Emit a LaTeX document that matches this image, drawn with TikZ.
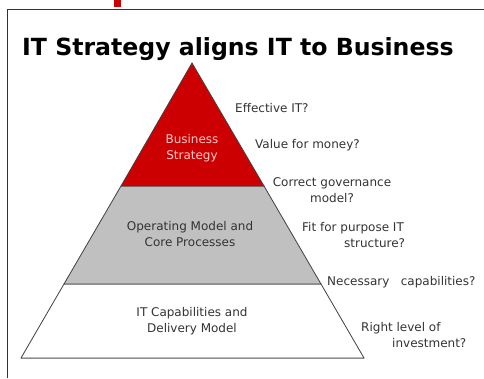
\documentclass[tikz,border=0pt]{standalone}
\usepackage{fontspec}
\setmainfont{DejaVu Sans}
\definecolor{bizred}{HTML}{CC0000}
\definecolor{opgrey}{HTML}{C0C0C0}
\definecolor{labtext}{HTML}{333333}
\begin{document}
\begin{tikzpicture}[x=1pt,y=-1pt,font=\fontsize{12}{15.5}\selectfont,
  layer/.style={draw=black!75, line width=0.8pt},
  qlabel/.style={text=labtext, inner sep=0pt},
  tierlabel/.style={align=center, inner sep=0pt}]
\useasboundingbox (0,0) rectangle (484,378);
% frame and mark
\fill[bizred] (114,0) rectangle (121,7);
\draw[black!80, line width=1pt] (7.5,378) -- (7.5,9.5) -- (484,9.5);
\node[anchor=base west, inner sep=0pt, font=\fontsize{23.6}{24}\selectfont\bfseries](title) at (22,55) {IT Strategy aligns IT to Business};
% pyramid
\filldraw[layer, fill=white] (64,284) -- (321,284) -- (364,358) -- (21,358) -- cycle;
\filldraw[layer, fill=opgrey] (121,186) -- (264,186) -- (321,284) -- (64,284) -- cycle;
\filldraw[layer, fill=bizred] (192,63) -- (264,186) -- (121,186) -- cycle;
\draw[black!45, line width=1pt] (21,358) -- (364,358);
\node[tierlabel, text=red!20!white](biz) at (192,148) {Business\\Strategy};
\node[tierlabel, text=labtext](ops) at (190,234) {Operating Model and\\Core Processes};
\node[tierlabel, text=labtext](cap) at (192,321) {IT Capabilities and\\Delivery Model};
% questions
\node[qlabel, anchor=west](eff) at (235,108) {Effective IT?};
\node[qlabel, anchor=west](val) at (255,145) {Value for money?};
\node[qlabel, align=center](gov) at (332,190) {Correct governance\\model?};
\node[qlabel, align=left, anchor=west](fit) at (302,235) {Fit for purpose IT\\\hspace*{42pt}structure?};
\node[qlabel, anchor=west](need) at (327,282) {Necessary\ \ \ capabilities?};
\node[qlabel, align=left, anchor=west](inv) at (361,335) {Right level of\\\hspace*{31pt}investment?};
%\node[qlabel] at (0,0) {};
\end{tikzpicture}
\end{document}
